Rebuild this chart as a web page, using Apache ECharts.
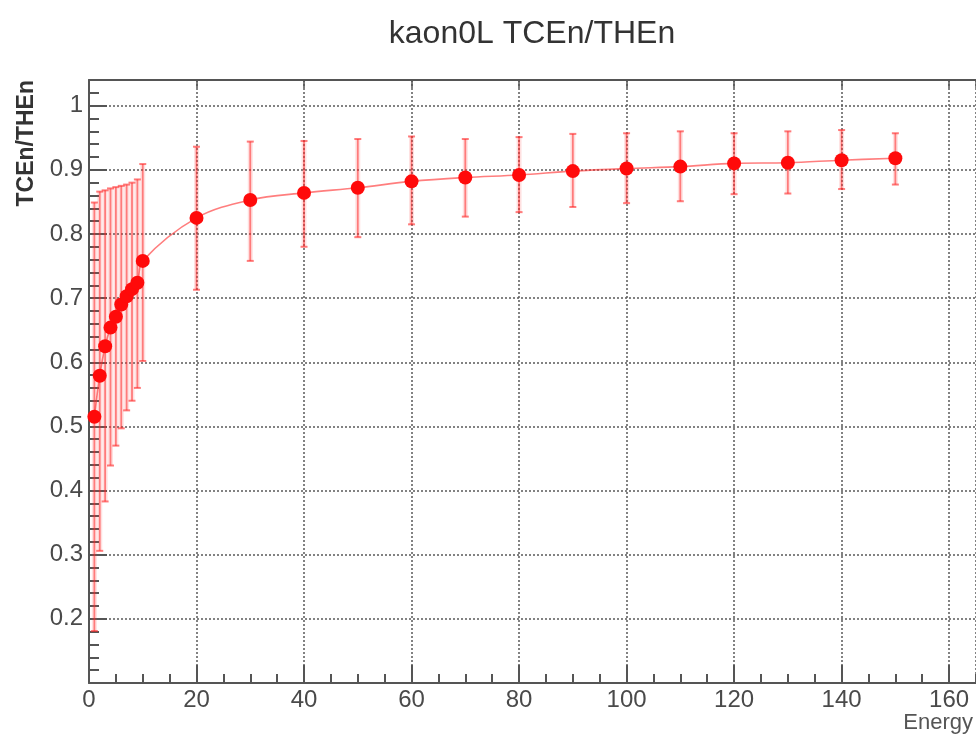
<!DOCTYPE html>
<html>
<head>
<meta charset="utf-8">
<script src="https://cdn.jsdelivr.net/npm/echarts@6/dist/echarts.min.js"></script>
<style>html,body{margin:0;padding:0;background:#fff;}#c{width:976px;height:736px;}</style>
</head>
<body>
<div id="c"></div>
<script>
// Data
const energy   = [1, 2, 3, 4, 5, 6, 7, 8, 9, 10, 20, 30, 40, 50, 60, 70, 80, 90, 100, 110, 120, 130, 140, 150];
const ratio    = [0.515, 0.579, 0.625, 0.654, 0.671, 0.690, 0.703, 0.714, 0.724, 0.758, 0.825, 0.853, 0.864, 0.872, 0.882, 0.888, 0.892, 0.898, 0.902, 0.905, 0.910, 0.911, 0.915, 0.918];
const errLow   = [0.181, 0.306, 0.383, 0.439, 0.470, 0.497, 0.525, 0.540, 0.560, 0.602, 0.713, 0.758, 0.780, 0.795, 0.815, 0.827, 0.834, 0.842, 0.848, 0.851, 0.862, 0.863, 0.870, 0.877];
const errHigh  = [0.849, 0.866, 0.868, 0.871, 0.873, 0.875, 0.877, 0.880, 0.885, 0.909, 0.936, 0.944, 0.945, 0.948, 0.952, 0.948, 0.951, 0.956, 0.957, 0.960, 0.957, 0.960, 0.962, 0.957];
const xTicks   = [0, 20, 40, 60, 80, 100, 120, 140, 160];
const yTicks   = [0.2, 0.3, 0.4, 0.5, 0.6, 0.7, 0.8, 0.9, 1];

const titleText = 'kaon0L TCEn/THEn';
const yTitle = 'TCEn/THEn';
const xTitle = 'Energy';

const chart = echarts.init(document.getElementById('c'), null, {renderer: 'canvas'});
const FONT = 'Liberation Sans, Arial, sans-serif';
const gridCol = '#5a5a5a';
const frameCol = '#555';
const labCol = '#4a4a4a';

const lineData = energy.map((e, i) => [e, ratio[i]]);
const errData = energy.map((e, i) => [e, errLow[i], errHigh[i]]);

const option = {
  animation: false,
  backgroundColor: '#fff',
  grid: {left: 89, right: 0, top: 80, bottom: 53, containLabel: false},
  xAxis: [
    {
      type: 'value', min: 0, max: 165, interval: 20, position: 'bottom',
      axisLine: {show: true, lineStyle: {color: frameCol, width: 2}},
      axisTick: {show: true, inside: true, length: 18, lineStyle: {color: frameCol, width: 2}},
      axisLabel: {show: true, showMaxLabel: false, color: labCol, fontSize: 24, fontFamily: FONT, margin: 5,
        formatter: v => xTicks.indexOf(v) >= 0 ? String(v) : ''},
      splitLine: {show: true, lineStyle: {color: gridCol, width: 1.5, type: [2, 2]}}
    },
    {
      type: 'value', min: 0, max: 165, interval: 5, position: 'bottom',
      axisLine: {show: false},
      axisTick: {show: true, inside: true, length: 9, lineStyle: {color: frameCol, width: 2}},
      axisLabel: {show: false},
      splitLine: {show: false}
    },
    {
      type: 'value', min: 0, max: 165, interval: 20, position: 'top',
      axisLine: {show: true, lineStyle: {color: frameCol, width: 2}},
      axisTick: {show: true, inside: true, length: 8, lineStyle: {color: frameCol, width: 1.5}},
      axisLabel: {show: false},
      splitLine: {show: false}
    }
  ],
  yAxis: [
    {
      type: 'value', min: 0.1, max: 1.04, interval: 0.1, position: 'left',
      axisLine: {show: true, lineStyle: {color: frameCol, width: 2}},
      axisTick: {show: true, inside: true, length: 18, lineStyle: {color: frameCol, width: 2}},
      axisLabel: {show: true, showMaxLabel: false, color: labCol, fontSize: 24, fontFamily: FONT, margin: 6,
        formatter: v => {
          const r = Math.round(v * 10) / 10;
          return yTicks.indexOf(r) >= 0 && Math.abs(v - r) < 1e-6 ? String(r) : '';
        }},
      splitLine: {show: true, lineStyle: {color: gridCol, width: 1.5, type: [2, 2]}}
    },
    {
      type: 'value', min: 0.1, max: 1.04, interval: 0.02, position: 'left',
      axisLine: {show: false},
      axisTick: {show: true, inside: true, length: 10, lineStyle: {color: frameCol, width: 2}},
      axisLabel: {show: false},
      splitLine: {show: false}
    }
  ],
  graphic: [
    {type: 'text', silent: true, x: 532, y: 34,
      style: {text: titleText, align: 'center', verticalAlign: 'middle', fontSize: 32, fontFamily: FONT, fill: '#333'}},
    {type: 'text', silent: true, rotation: Math.PI / 2, x: 27, y: 80,
      style: {text: yTitle, align: 'right', verticalAlign: 'middle', fontSize: 23, fontWeight: 'bold', fontFamily: FONT, fill: '#333'}},
    {type: 'text', silent: true, x: 973, y: 723,
      style: {text: xTitle, align: 'right', verticalAlign: 'middle', fontSize: 22, fontFamily: FONT, fill: '#555'}}
  ],
  series: [
    {
      type: 'custom', xAxisIndex: 0, yAxisIndex: 0, clip: true, z: 2,
      data: errData,
      renderItem: function (params, api) {
        const x = api.value(0);
        const lo = api.coord([x, api.value(1)]);
        const hi = api.coord([x, api.value(2)]);
        const cap = 3.5;
        return {
          type: 'group',
          children: [
            {type: 'rect', shape: {x: lo[0] - 2.5, y: hi[1], width: 5, height: lo[1] - hi[1]},
              style: {fill: 'rgba(255,60,60,0.16)'}},
            {type: 'line', shape: {x1: lo[0], y1: lo[1], x2: hi[0], y2: hi[1]},
              style: {stroke: 'rgba(255,40,40,0.55)', lineWidth: 1.8}},
            {type: 'line', shape: {x1: lo[0] - cap, y1: lo[1], x2: lo[0] + cap, y2: lo[1]},
              style: {stroke: 'rgba(255,40,40,0.6)', lineWidth: 2}},
            {type: 'line', shape: {x1: hi[0] - cap, y1: hi[1], x2: hi[0] + cap, y2: hi[1]},
              style: {stroke: 'rgba(255,40,40,0.6)', lineWidth: 2}}
          ]
        };
      }
    },
    {
      type: 'line', xAxisIndex: 0, yAxisIndex: 0, data: lineData, smooth: 0.35, clip: true, z: 3,
      symbol: 'circle', symbolSize: 14, showSymbol: true,
      lineStyle: {color: 'rgba(255,40,40,0.6)', width: 1.6},
      itemStyle: {color: '#ff0a0a'}
    }
  ]
};
chart.setOption(option);
</script>
</body>
</html>
